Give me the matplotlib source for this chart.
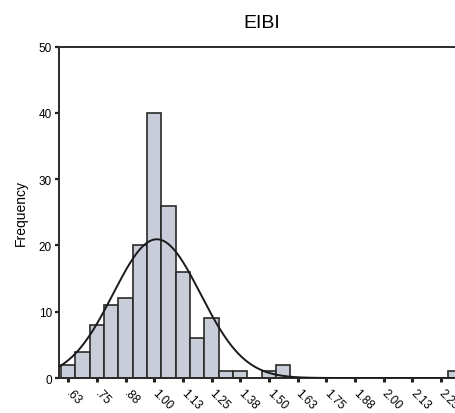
import numpy as np
import matplotlib
matplotlib.use("Agg")
import matplotlib.pyplot as plt

plt.rcParams['font.family'] = ['Liberation Sans', 'DejaVu Sans']

# Histogram of EIBI scores: bin centres (width 0.0625) and counts
bin_width = 0.0625
bin_centers = [0.625, 0.6875, 0.75, 0.8125, 0.875, 0.9375, 1.0, 1.0625,
               1.125, 1.1875, 1.25, 1.3125, 1.375, 1.4375, 1.5, 1.5625,
               2.3125]
counts = [2, 4, 8, 11, 12, 20, 40, 26, 16, 6, 9, 1, 1, 0, 1, 2, 1]

tick_values = [0.625, 0.75, 0.875, 1.0, 1.125, 1.25, 1.375, 1.5, 1.625,
               1.75, 1.875, 2.0, 2.125, 2.25]
tick_labels = ['.63', '.75', '.88', '1.00', '1.13', '1.25', '1.38', '1.50',
               '1.63', '1.75', '1.88', '2.00', '2.13', '2.25']
y_ticks = [0, 10, 20, 30, 40, 50]

centers = np.array(bin_centers)
freq = np.array(counts)
n = freq.sum()
mean = (centers * freq).sum() / n
sd = np.sqrt(((centers - mean) ** 2 * freq).sum() / (n - 1))

fig = plt.figure(figsize=(4.56, 4.14), dpi=100)
ax = fig.add_axes([0.1294, 0.0845, 0.888, 0.8003])

ax.bar(centers, freq, width=bin_width, color='#c9cdda',
       edgecolor='#2a2a2a', linewidth=1.2, zorder=2)

xs = np.linspace(0.585, 2.35, 600)
curve = n * bin_width / (sd * np.sqrt(2 * np.pi)) * np.exp(-0.5 * ((xs - mean) / sd) ** 2)
ax.plot(xs, curve, color='#1a1a1a', linewidth=1.4, zorder=3)

ax.set_xlim(0.585, 2.35)
ax.set_ylim(0, 50)

ax.set_yticks(y_ticks)
ax.set_yticklabels([str(v) for v in y_ticks], fontsize=8.5)
ax.set_xticks(tick_values)
ax.set_xticklabels(tick_labels, fontsize=8.5, rotation=-45,
                   ha='left', va='center', rotation_mode='anchor')

ax.tick_params(axis='y', direction='out', length=3, width=1.6, pad=2,
               color='#222222')
ax.tick_params(axis='x', direction='out', length=3, width=2.2, pad=6,
               color='#222222')

for side in ['left', 'top', 'bottom']:
    ax.spines[side].set_color('#2a2a2a')
    ax.spines[side].set_linewidth(1.4)
ax.spines['right'].set_visible(False)

ax.set_ylabel('Frequency', fontsize=10, labelpad=8)
ax.set_title('EIBI', fontsize=14, pad=14)

fig.savefig('out.png', dpi=100)
